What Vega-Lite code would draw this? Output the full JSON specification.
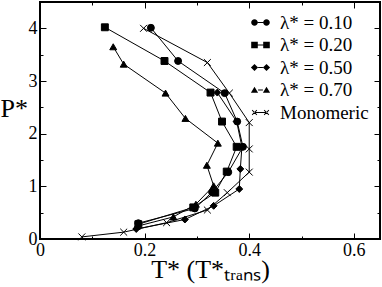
{
  "$schema": "https://vega.github.io/schema/vega-lite/v6.json",
  "autosize": "none",
  "width": 340,
  "height": 237,
  "padding": {"left": 40, "top": 2, "right": 2, "bottom": 48},
  "background": "white",
  "config": {
    "view": {"stroke": "black", "strokeWidth": 2},
    "font": "Liberation Serif",
    "axis": {"labelFont": "Liberation Serif", "titleFont": "Liberation Serif", "labelColor": "black", "titleColor": "black", "tickColor": "black", "grid": false, "domain": false},
    "legend": {"labelFont": "Liberation Serif", "labelColor": "black"}
  },
  "data": {"values": [
    {"s": "λ* = 0.10", "o": 1, "T": 0.212, "P": 4.01},
    {"s": "λ* = 0.10", "o": 2, "T": 0.264, "P": 3.38},
    {"s": "λ* = 0.10", "o": 3, "T": 0.353, "P": 2.77},
    {"s": "λ* = 0.10", "o": 4, "T": 0.377, "P": 2.23},
    {"s": "λ* = 0.10", "o": 5, "T": 0.388, "P": 1.75},
    {"s": "λ* = 0.10", "o": 6, "T": 0.360, "P": 1.27},
    {"s": "λ* = 0.10", "o": 7, "T": 0.329, "P": 0.89},
    {"s": "λ* = 0.10", "o": 8, "T": 0.296, "P": 0.58},
    {"s": "λ* = 0.10", "o": 9, "T": 0.188, "P": 0.30},
    {"s": "λ* = 0.20", "o": 1, "T": 0.124, "P": 4.02},
    {"s": "λ* = 0.20", "o": 2, "T": 0.238, "P": 3.38},
    {"s": "λ* = 0.20", "o": 3, "T": 0.326, "P": 2.78},
    {"s": "λ* = 0.20", "o": 4, "T": 0.348, "P": 2.23},
    {"s": "λ* = 0.20", "o": 5, "T": 0.376, "P": 1.75},
    {"s": "λ* = 0.20", "o": 6, "T": 0.357, "P": 1.28},
    {"s": "λ* = 0.20", "o": 7, "T": 0.335, "P": 0.88},
    {"s": "λ* = 0.20", "o": 8, "T": 0.293, "P": 0.60},
    {"s": "λ* = 0.20", "o": 9, "T": 0.188, "P": 0.28},
    {"s": "λ* = 0.50", "o": 1, "T": 0.339, "P": 2.78},
    {"s": "λ* = 0.50", "o": 2, "T": 0.376, "P": 2.23},
    {"s": "λ* = 0.50", "o": 3, "T": 0.386, "P": 1.75},
    {"s": "λ* = 0.50", "o": 4, "T": 0.383, "P": 1.33},
    {"s": "λ* = 0.50", "o": 5, "T": 0.381, "P": 0.95},
    {"s": "λ* = 0.50", "o": 6, "T": 0.332, "P": 0.63},
    {"s": "λ* = 0.50", "o": 7, "T": 0.277, "P": 0.37},
    {"s": "λ* = 0.50", "o": 8, "T": 0.184, "P": 0.19},
    {"s": "λ* = 0.70", "o": 1, "T": 0.140, "P": 3.65},
    {"s": "λ* = 0.70", "o": 2, "T": 0.160, "P": 3.32},
    {"s": "λ* = 0.70", "o": 3, "T": 0.240, "P": 2.77},
    {"s": "λ* = 0.70", "o": 4, "T": 0.278, "P": 2.29},
    {"s": "λ* = 0.70", "o": 5, "T": 0.340, "P": 1.82},
    {"s": "λ* = 0.70", "o": 6, "T": 0.319, "P": 1.40},
    {"s": "λ* = 0.70", "o": 7, "T": 0.332, "P": 1.01},
    {"s": "λ* = 0.70", "o": 8, "T": 0.298, "P": 0.66},
    {"s": "λ* = 0.70", "o": 9, "T": 0.255, "P": 0.42},
    {"s": "λ* = 0.70", "o": 10, "T": 0.185, "P": 0.24},
    {"s": "Monomeric", "o": 1, "T": 0.198, "P": 4.00},
    {"s": "Monomeric", "o": 2, "T": 0.320, "P": 3.35},
    {"s": "Monomeric", "o": 3, "T": 0.362, "P": 2.77},
    {"s": "Monomeric", "o": 4, "T": 0.400, "P": 2.21},
    {"s": "Monomeric", "o": 5, "T": 0.400, "P": 1.71},
    {"s": "Monomeric", "o": 6, "T": 0.400, "P": 1.27},
    {"s": "Monomeric", "o": 7, "T": 0.358, "P": 0.88},
    {"s": "Monomeric", "o": 8, "T": 0.320, "P": 0.55},
    {"s": "Monomeric", "o": 9, "T": 0.242, "P": 0.31},
    {"s": "Monomeric", "o": 10, "T": 0.160, "P": 0.13},
    {"s": "Monomeric", "o": 11, "T": 0.080, "P": 0.04}
  ]},
  "layer": [
    {
      "encoding": {
        "x": {"field": "T", "type": "quantitative", "scale": {"domain": [0, 0.65], "nice": false, "zero": false},
          "axis": {"orient": "bottom", "values": [0, 0.1, 0.2, 0.3, 0.4, 0.5, 0.6], "format": "~g",
            "labelExpr": "round(datum.value*10) % 2 == 0 ? datum.label : ''",
            "tickSize": {"condition": {"test": "round(datum.value*10) % 2 == 0", "value": -6}, "value": -3},
            "labelPadding": 8, "labelFontSize": 18, "labelFlush": false,
            "title": "T* (T*ₜᵣₐₙₛ)", "titleFontSize": 26, "titleFontWeight": "normal", "titlePadding": -3}},
        "y": {"field": "P", "type": "quantitative", "scale": {"domain": [0, 4.5], "nice": false, "zero": false},
          "axis": {"orient": "left", "values": [0, 0.5, 1, 1.5, 2, 2.5, 3, 3.5, 4], "format": "~g",
            "labelExpr": "round(datum.value*2) % 2 == 0 ? datum.label : ''",
            "tickSize": {"condition": {"test": "round(datum.value*2) % 2 == 0", "value": -6}, "value": -3},
            "labelPadding": 9, "labelFontSize": 18, "labelFlush": false,
            "title": "P*", "titleFontSize": 26, "titleFontWeight": "normal", "titleAngle": 0, "titleAlign": "left", "titleBaseline": "middle", "titleX": -40, "titleY": 106}}
      },
      "layer": [
        {"mark": {"type": "line", "color": "black", "strokeWidth": 1},
          "encoding": {"detail": {"field": "s"}, "order": {"field": "o"}}},
        {"mark": {"type": "point", "filled": true, "opacity": 1, "color": "black", "stroke": "black", "strokeWidth": 1, "size": 48},
          "encoding": {"shape": {"field": "s", "type": "nominal",
            "scale": {"domain": ["λ* = 0.10", "λ* = 0.20", "λ* = 0.50", "λ* = 0.70", "Monomeric"],
              "range": ["circle", "square", "diamond", "triangle-up", "M-1,-1L1,1M-1,1L1,-1"]},
            "legend": null}}}
      ]
    },
    {
      "transform": [{"filter": "datum.o > 100"}],
      "mark": {"type": "point", "filled": true, "fill": "black", "fillOpacity": 1, "opacity": 1, "stroke": "black", "strokeWidth": 1, "size": 36},
      "encoding": {
        "x": {"field": "T", "type": "quantitative", "scale": {"domain": [0, 0.65], "nice": false, "zero": false},
          "axis": {"orient": "top", "values": [0, 0.1, 0.2, 0.3, 0.4, 0.5, 0.6], "labels": false, "title": null,
            "tickSize": {"condition": {"test": "round(datum.value*10) % 2 == 0", "value": -6}, "value": -3}}},
        "y": {"field": "P", "type": "quantitative", "scale": {"domain": [0, 4.5], "nice": false, "zero": false},
          "axis": {"orient": "right", "values": [0, 0.5, 1, 1.5, 2, 2.5, 3, 3.5, 4], "labels": false, "title": null,
            "tickSize": {"condition": {"test": "round(datum.value*2) % 2 == 0", "value": -6}, "value": -3}}},
        "shape": {"field": "s", "type": "nominal",
          "scale": {"domain": ["λ* = 0.10", "λ* = 0.20", "λ* = 0.50", "λ* = 0.70", "Monomeric"],
            "range": [
              "M-0.9,-0.17L0.9,-0.17L0.9,0.17L-0.9,0.17ZM-3.1,0a1.1,1.1 0 1,0 2.2,0a1.1,1.1 0 1,0 -2.2,0M0.9,0a1.1,1.1 0 1,0 2.2,0a1.1,1.1 0 1,0 -2.2,0",
              "M-0.9,-0.17L0.9,-0.17L0.9,0.17L-0.9,0.17ZM-3.1,-1.1h2.2v2.2h-2.2zM0.9,-1.1h2.2v2.2h-2.2z",
              "M-0.8,-0.17L0.8,-0.17L0.8,0.17L-0.8,0.17ZM-3.2,0l1.2,-1.2l1.2,1.2l-1.2,1.2zM0.8,0l1.2,-1.2l1.2,1.2l-1.2,1.2z",
              "M-0.8,-0.17L0.8,-0.17L0.8,0.17L-0.8,0.17ZM-3.2,0.9l1.2,-2l1.2,2zM0.8,0.9l1.2,-2l1.2,2z",
              "M-2,-0.17L2,-0.17L2,0.17L-2,0.17ZM-2.7,-0.9L-1.1,0.7L-1.3,0.9L-2.9,-0.7ZM-2.7,0.9L-1.1,-0.7L-1.3,-0.9L-2.9,0.7ZM1.3,-0.9L2.9,0.7L2.7,0.9L1.1,-0.7ZM1.3,0.9L2.9,-0.7L2.7,-0.9L1.1,0.7Z"
            ]},
          "legend": {"title": null, "orient": "top-right", "offset": 8, "labelFontSize": 19, "labelOffset": 10,
            "symbolOpacity": 1, "symbolFillColor": "black", "symbolStrokeColor": "black", "symbolStrokeWidth": 0, "symbolSize": 36,
            "rowPadding": 2.5, "padding": 3}}
      }
    }
  ],
  "resolve": {"axis": {"x": "independent", "y": "independent"}, "scale": {"shape": "independent"}, "legend": {"shape": "independent"}}
}
